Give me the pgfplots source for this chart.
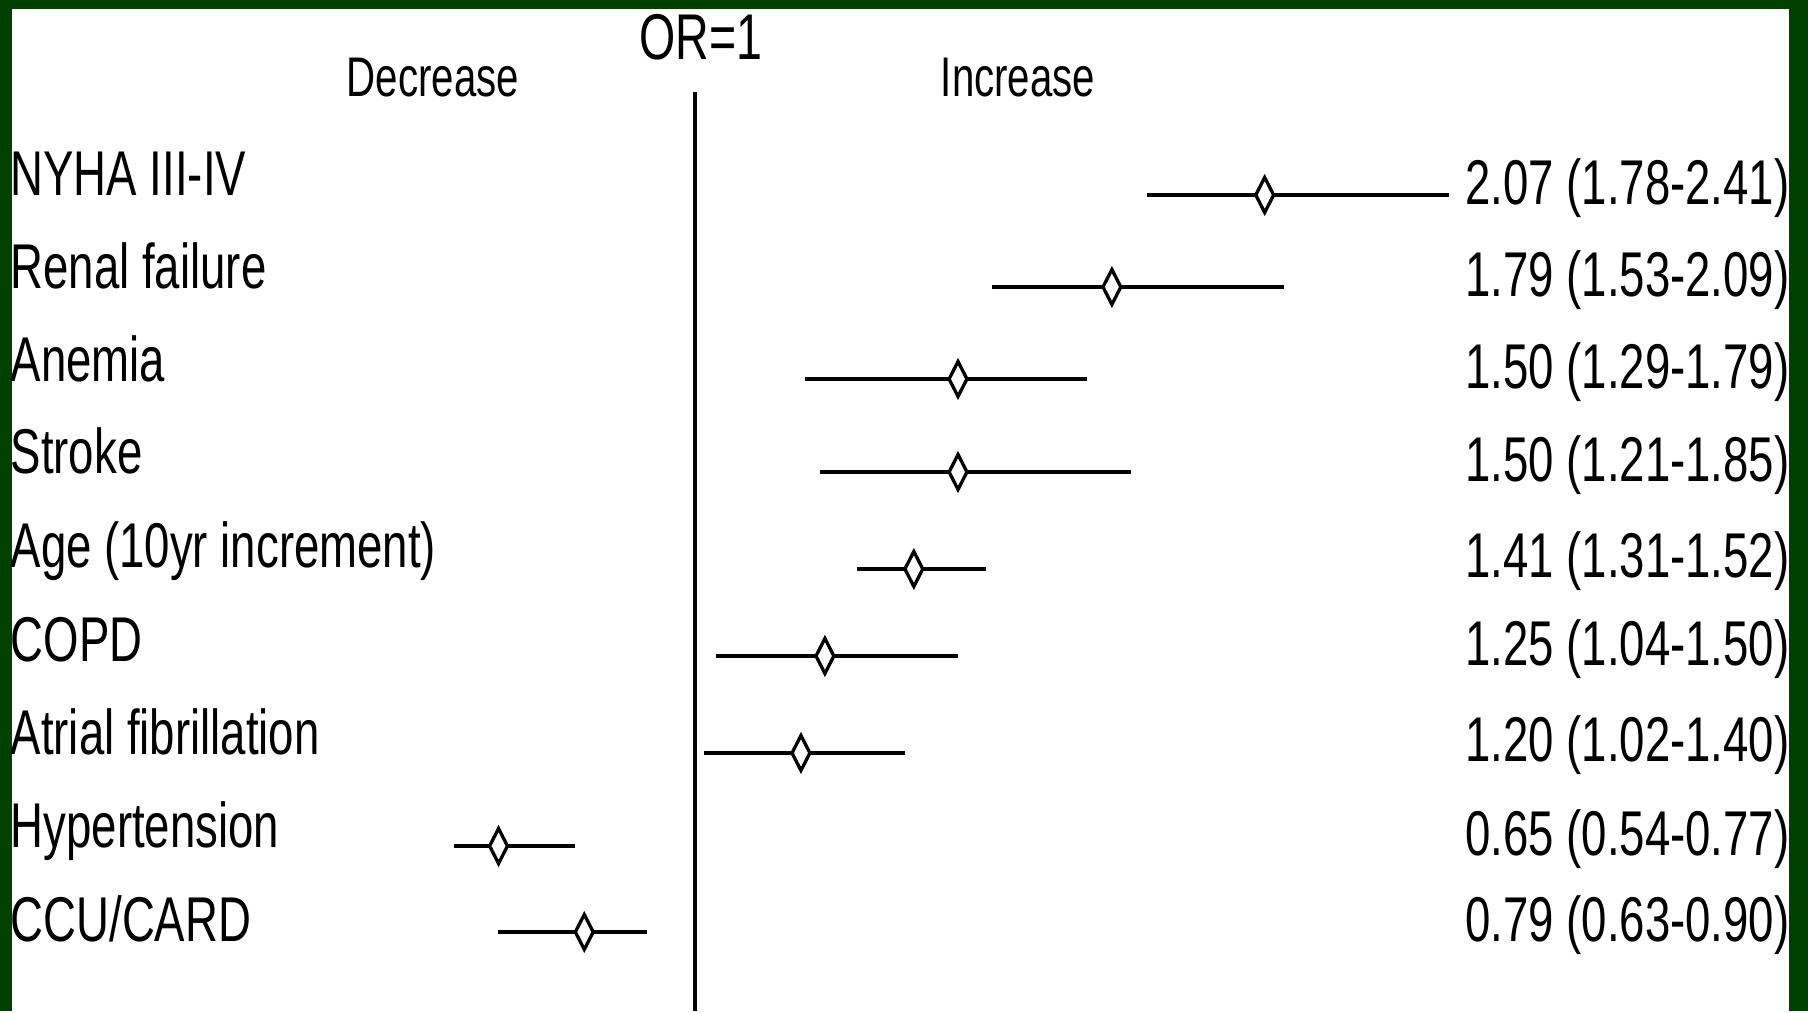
\documentclass[border=0pt]{standalone}
\usepackage{pgfplots}
\pgfplotsset{compat=1.18}
\usepackage{fontspec}
\setmainfont{Liberation Sans}[FakeStretch=0.72]
\definecolor{bordergreen}{RGB}{0,64,0}
\newcommand{\lab}{\fontsize{18pt}{21pt}\selectfont}
\newcommand{\hdr}{\fontsize{15.9pt}{19pt}\selectfont}
\newcommand{\orl}{\fontsize{18.4pt}{22pt}\selectfont}
\begin{document}
\begin{tikzpicture}
\begin{axis}[
  width=180.8mm, height=101.1mm, scale only axis,
  xmin=-0.3054, xmax=3.0905, ymin=0, ymax=1011, y dir=reverse,
  hide axis, clip=false]
% background and border
\fill[bordergreen] (axis cs:-0.3054,0) rectangle (axis cs:3.0905,1011);
\fill[white] (axis cs:-0.2829,9) rectangle (axis cs:3.0549,1011);
% reference line OR=1
\addplot[black, line width=0.32mm] coordinates {(1,92) (1,1011)};
% confidence intervals
\addplot[black, line width=0.4mm] coordinates {(1.849,195) (2.417,195)};
\addplot[black, line width=0.4mm] coordinates {(1.558,287) (2.107,287)};
\addplot[black, line width=0.4mm] coordinates {(1.206,379) (1.736,379)};
\addplot[black, line width=0.4mm] coordinates {(1.235,472) (1.819,472)};
\addplot[black, line width=0.4mm] coordinates {(1.304,569) (1.546,569)};
\addplot[black, line width=0.4mm] coordinates {(1.039,656) (1.493,656)};
\addplot[black, line width=0.4mm] coordinates {(1.016,753) (1.395,753)};
\addplot[black, line width=0.4mm] coordinates {(0.547,846) (0.774,846)};
\addplot[black, line width=0.4mm] coordinates {(0.630,932) (0.909,932)};
% point estimates
\addplot[only marks, mark=diamond*, mark size=1.75mm,
  mark options={fill=white, draw=black, line width=0.33mm, xscale=0.68}]
  table[x=est, y=y] {
est y
2.070 195
1.783 287
1.494 379
1.494 472
1.411 569
1.244 656
1.199 753
0.631 846
0.792 932
};
% header labels
\node[anchor=base, inner sep=0] at (axis cs:0.5079,97) {\hdr Decrease};
\node[anchor=base, inner sep=0] at (axis cs:1.6067,97) {\hdr Increase};
\node[anchor=base, inner sep=0] at (axis cs:1.0113,60) {\orl OR=1};
% row labels
\node[anchor=base west, inner sep=0] at (axis cs:-0.2866,196) {\lab NYHA III-IV};
\node[anchor=base west, inner sep=0] at (axis cs:-0.2866,289) {\lab Renal failure};
\node[anchor=base west, inner sep=0] at (axis cs:-0.2866,382) {\lab Anemia};
\node[anchor=base west, inner sep=0] at (axis cs:-0.2866,474) {\lab Stroke};
\node[anchor=base west, inner sep=0] at (axis cs:-0.2866,568) {\lab Age (10yr increment)};
\node[anchor=base west, inner sep=0] at (axis cs:-0.2866,662) {\lab COPD};
\node[anchor=base west, inner sep=0] at (axis cs:-0.2866,755) {\lab Atrial fibrillation};
\node[anchor=base west, inner sep=0] at (axis cs:-0.2866,848) {\lab Hypertension};
\node[anchor=base west, inner sep=0] at (axis cs:-0.2866,942) {\lab CCU/CARD};
% estimate labels
\node[anchor=base east, inner sep=0] at (axis cs:3.0568,205) {\lab 2.07 (1.78-2.41)};
\node[anchor=base east, inner sep=0] at (axis cs:3.0568,297) {\lab 1.79 (1.53-2.09)};
\node[anchor=base east, inner sep=0] at (axis cs:3.0568,389) {\lab 1.50 (1.29-1.79)};
\node[anchor=base east, inner sep=0] at (axis cs:3.0568,482) {\lab 1.50 (1.21-1.85)};
\node[anchor=base east, inner sep=0] at (axis cs:3.0568,578) {\lab 1.41 (1.31-1.52)};
\node[anchor=base east, inner sep=0] at (axis cs:3.0568,666) {\lab 1.25 (1.04-1.50)};
\node[anchor=base east, inner sep=0] at (axis cs:3.0568,762) {\lab 1.20 (1.02-1.40)};
\node[anchor=base east, inner sep=0] at (axis cs:3.0568,856) {\lab 0.65 (0.54-0.77)};
\node[anchor=base east, inner sep=0] at (axis cs:3.0568,942) {\lab 0.79 (0.63-0.90)};
\end{axis}
\end{tikzpicture}
\end{document}
